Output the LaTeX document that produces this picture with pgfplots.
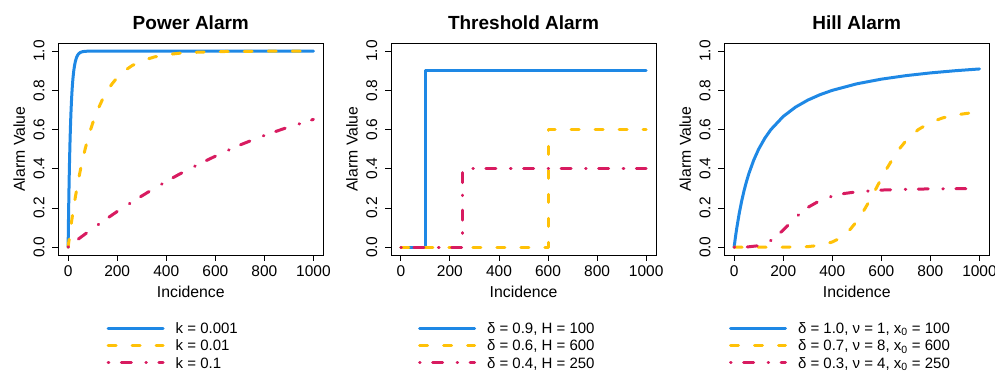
\documentclass[border=0pt]{standalone}
\usepackage{fontspec}
\setmainfont{Liberation Sans}
\usepackage{pgfplots}
\pgfplotsset{compat=1.18}
\definecolor{cblue}{HTML}{1E88E5}
\definecolor{cyel}{HTML}{FFC107}
\definecolor{cred}{HTML}{D81B60}
\newcommand\tickfont{\fontsize{15.5}{18}\selectfont}
\newcommand\labfont{\fontsize{15.8}{18}\selectfont}
\newcommand\titfont{\fontsize{19}{22}\selectfont\bfseries}
\newcommand\legfont{\fontsize{15}{18}\selectfont}
\pgfplotsset{
  rstyle/.style={
    scale only axis, width=265pt, height=211.7pt,
    xmin=-40, xmax=1040, ymin=-0.04, ymax=1.04,
    xtick={0,200,400,600,800,1000}, ytick={0,0.2,0.4,0.6,0.8,1.0},
    tick pos=left, tick align=outside, major tick length=6pt,
    tick style={black, line width=0.8pt},
    axis line style={black, line width=0.8pt},
    /pgf/number format/assume math mode=true,
    /pgf/number format/1000 sep={},
    ticklabel style={font=\tickfont},
    xticklabel style={anchor=north, inner sep=0pt, yshift=-4pt},
    yticklabel style={xshift=-7.5pt, rotate=90, anchor=south, inner sep=0pt,
      /pgf/number format/.cd, fixed, fixed zerofill, precision=1},
    every axis x label/.style={at={(axis description cs:0.5,-0.2)}, anchor=base, font=\labfont},
    every axis y label/.style={at={(axis description cs:-0.126,0.5)}, rotate=90, anchor=base, font=\labfont},
    every axis title/.style={at={(axis description cs:0.5,1.066)}, anchor=base, font=\titfont},
    xlabel={Incidence}, ylabel={Alarm Value},
    legend cell align=left,
    legend image code/.code={\draw[##1] (0pt,0pt) -- (55pt,0pt);},
    legend style={draw=none, fill=none, inner sep=0pt, outer sep=0pt,
      column sep=11pt, row sep=0pt, anchor=north west,
      nodes={inner sep=0pt, text height=14.05pt, text depth=3.25pt, font=\legfont}},
  },
  sblue/.style={cblue, line width=3pt, line cap=round, line join=round},
  syel/.style={cyel, line width=3pt, line cap=round, line join=round, dash pattern=on 8pt off 16pt},
  sred/.style={cred, line width=3pt, line cap=round, line join=round, dash pattern=on 0.6pt off 12.5pt on 10pt off 14.5pt},
}
\begin{document}
\begin{tikzpicture}
\path[use as bounding box] (0,0) rectangle (995pt,371pt);
% ---------------- Power Alarm
\begin{axis}[rstyle, at={(58.3pt,116pt)}, anchor=south west, title={Power Alarm},
  legend style={at={(axis description cs:0.1826,-0.305)}}]
\addplot[sblue] coordinates {(0,0) (2,0.1813) (4,0.3297) (6,0.4512) (8,0.5507) (10,0.6321) (12,0.6988) (14,0.7534) (16,0.7981) (18,0.8347) (20,0.8647) (23,0.8997) (26,0.9257) (30,0.9502) (35,0.9698) (40,0.9817) (45,0.9889) (50,0.9933) (60,0.9975) (70,0.9991) (80,0.9997) (100,1.0) (1000,1.0)};
\addlegendentry{k = 0.001}
\addplot[syel] coordinates {(0,0) (10,0.0952) (20,0.1813) (30,0.2592) (40,0.3297) (50,0.3935) (60,0.4512) (70,0.5034) (80,0.5507) (90,0.5934) (100,0.6321) (120,0.6988) (140,0.7534) (160,0.7981) (180,0.8347) (200,0.8647) (230,0.8997) (260,0.9257) (300,0.9502) (350,0.9698) (400,0.9817) (450,0.9889) (500,0.9933) (600,0.9975) (700,0.9991) (800,0.9997) (900,0.9999) (1000,1.0)};
\addlegendentry{k = 0.01}
\addplot[sred] coordinates {(0,0) (25,0.025) (50,0.049) (100,0.095) (150,0.139) (200,0.182) (250,0.222) (300,0.261) (350,0.299) (400,0.335) (450,0.370) (500,0.403) (550,0.434) (600,0.464) (650,0.493) (700,0.521) (750,0.546) (800,0.570) (850,0.592) (900,0.613) (950,0.632) (1000,0.652)};
\addlegendentry{k = 0.1}
\end{axis}
% ---------------- Threshold Alarm
\begin{axis}[rstyle, at={(391pt,116pt)}, anchor=south west, title={Threshold Alarm},
  legend style={at={(axis description cs:0.1019,-0.305)}}]
\addplot[sblue] coordinates {(0,0) (100,0) (100,0.9) (1000,0.9)};
\addlegendentry{δ = 0.9, H = 100}
\addplot[syel] coordinates {(0,0) (600,0) (600,0.6) (1000,0.6)};
\addlegendentry{δ = 0.6, H = 600}
\addplot[sred] coordinates {(0,0) (250,0) (250,0.4) (1000,0.4)};
\addlegendentry{δ = 0.4, H = 250}
\end{axis}
% ---------------- Hill Alarm
\begin{axis}[rstyle, at={(724.3pt,116pt)}, anchor=south west, title={Hill Alarm},
  legend style={at={(axis description cs:0.0177,-0.305)}}]
\addplot[sblue] coordinates {(0,0) (5,0.0476) (10,0.0909) (20,0.1667) (30,0.2308) (40,0.2857) (50,0.3333) (60,0.375) (80,0.4444) (100,0.5) (125,0.5556) (150,0.6) (200,0.6667) (250,0.7143) (300,0.75) (350,0.7778) (400,0.8) (500,0.8333) (600,0.8571) (700,0.875) (800,0.8889) (900,0.9) (1000,0.9091)};
\addlegendentry{δ = 1.0, ν = 1, x\textsubscript{0} = 100}
\addplot[syel] coordinates {(0,0) (100,0) (200,0.0001) (250,0.0006) (300,0.0027) (350,0.0093) (400,0.0263) (425,0.0417) (450,0.0637) (475,0.0936) (500,0.1321) (525,0.179) (550,0.2329) (575,0.291) (600,0.35) (625,0.4067) (650,0.4584) (675,0.5037) (700,0.5421) (750,0.5994) (800,0.6363) (850,0.6594) (900,0.6737) (950,0.6827) (1000,0.6884)};
\addlegendentry{δ = 0.7, ν = 8, x\textsubscript{0} = 600}
\addplot[sred] coordinates {(0,0) (50,0.0005) (100,0.0075) (125,0.0177) (150,0.0344) (175,0.0581) (200,0.0872) (225,0.1189) (250,0.15) (275,0.1783) (300,0.2024) (350,0.238) (400,0.2603) (450,0.2739) (500,0.2824) (600,0.2912) (700,0.2952) (800,0.2972) (900,0.2982) (1000,0.2988)};
\addlegendentry{δ = 0.3, ν = 4, x\textsubscript{0} = 250}
\end{axis}
\end{tikzpicture}
\end{document}
